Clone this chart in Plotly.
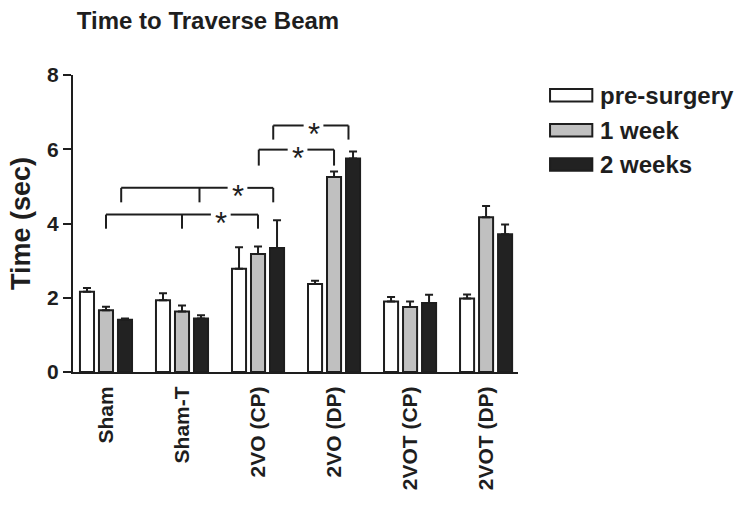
import plotly.graph_objects as go

# Groups and time points
groups = ["Sham", "Sham-T", "2VO (CP)", "2VO (DP)", "2VOT (CP)", "2VOT (DP)"]
series_names = ["pre-surgery", "1 week", "2 weeks"]

# Mean time to traverse the beam (sec)
pre_surgery = [2.16, 1.93, 2.78, 2.37, 1.90, 1.98]
week_1 = [1.66, 1.63, 3.18, 5.25, 1.75, 4.17]
weeks_2 = [1.41, 1.44, 3.34, 5.75, 1.86, 3.71]

# Upper error (SEM)
pre_surgery_err = [0.10, 0.19, 0.58, 0.09, 0.12, 0.11]
week_1_err = [0.10, 0.16, 0.20, 0.15, 0.15, 0.30]
weeks_2_err = [0.03, 0.09, 0.75, 0.19, 0.22, 0.26]

y_ticks = [0, 2, 4, 6, 8]

values = [pre_surgery, week_1, weeks_2]
errors = [pre_surgery_err, week_1_err, weeks_2_err]
fills = ["#ffffff", "#c0c0c0", "#222222"]
INK = "#1e1e1e"
FONT = "Liberation Sans, Arial, sans-serif"

x_pos = list(range(len(groups)))

fig = go.Figure()
for name, vals, errs, fill in zip(series_names, values, errors, fills):
    fig.add_trace(go.Bar(
        x=x_pos, y=vals, name=name,
        marker=dict(color=fill, line=dict(color=INK, width=2)),
        error_y=dict(type="data", array=errs, arrayminus=[0] * len(errs),
                     symmetric=False, color=INK, thickness=2, width=4),
        showlegend=False,
    ))

# Significance brackets: (x_left, x_mid, x_right, y_line, y_foot, x_star)
brackets = [
    (0.00, 1.00, 2.00, 4.24, 3.86, 1.51),
    (0.20, 1.23, 2.20, 4.96, 4.57, 1.73),
    (2.01, None, 3.00, 5.99, 5.56, 2.52),
    (2.20, None, 3.19, 6.64, 6.26, 2.73),
]
gap = 0.13
shapes = []
annotations = []
line_style = dict(color=INK, width=2)
for xl, xm, xr, yl, yf, xs in brackets:
    shapes.append(dict(type="line", xref="x", yref="y", x0=xl, x1=xs - gap, y0=yl, y1=yl, line=line_style))
    shapes.append(dict(type="line", xref="x", yref="y", x0=xs + gap, x1=xr, y0=yl, y1=yl, line=line_style))
    feet = [xl, xr] + ([xm] if xm is not None else [])
    for xf in feet:
        shapes.append(dict(type="line", xref="x", yref="y", x0=xf, x1=xf, y0=yl, y1=yf, line=line_style))
    annotations.append(dict(x=xs, y=yl, xref="x", yref="y", text="*", showarrow=False,
                            yanchor="middle", yshift=-9,
                            font=dict(family=FONT, size=31, color=INK)))

# Legend drawn as wide swatches with labels to their right
legend_rows = [0.932, 0.814, 0.699]
for name, fill, yc in zip(series_names, fills, legend_rows):
    shapes.append(dict(type="rect", xref="paper", yref="paper",
                       x0=1.072, x1=1.167, y0=yc - 0.021, y1=yc + 0.021,
                       fillcolor=fill, line=dict(color=INK, width=2)))
    annotations.append(dict(x=1.18, y=yc, xref="paper", yref="paper", text=name,
                            showarrow=False, xanchor="left", yanchor="middle",
                            font=dict(family=FONT, size=24, color=INK, weight="bold")))

fig.update_layout(
    width=744, height=520,
    margin=dict(l=73, r=226, t=75, b=148),
    paper_bgcolor="white", plot_bgcolor="white",
    barmode="group", bargap=0.25, bargroupgap=0.26,
    title=dict(text="Time to Traverse Beam", xref="container", yref="container",
               x=208 / 744, xanchor="center", y=1 - 21 / 520, yanchor="middle",
               font=dict(family=FONT, size=24, color=INK, weight="bold")),
    shapes=shapes, annotations=annotations,
    font=dict(family=FONT, color=INK),
)
fig.update_xaxes(
    range=[-0.434, 5.42], tickvals=x_pos, ticktext=groups, tickangle=-90,
    showline=True, linecolor=INK, linewidth=2, ticks="", showgrid=False, zeroline=False,
    tickfont=dict(family=FONT, size=21, color=INK, weight="bold"),
    ticklabelstandoff=4,
)
fig.update_yaxes(
    range=[0, 8], tickvals=y_ticks, showline=True, linecolor=INK, linewidth=2,
    ticks="outside", ticklen=8, tickwidth=2, tickcolor=INK, showgrid=False, zeroline=False,
    tickfont=dict(family=FONT, size=21, color=INK, weight="bold"),
    title=dict(text="Time (sec)", standoff=9,
               font=dict(family=FONT, size=27, color=INK, weight="bold")),
)

fig.write_html("out.html")
